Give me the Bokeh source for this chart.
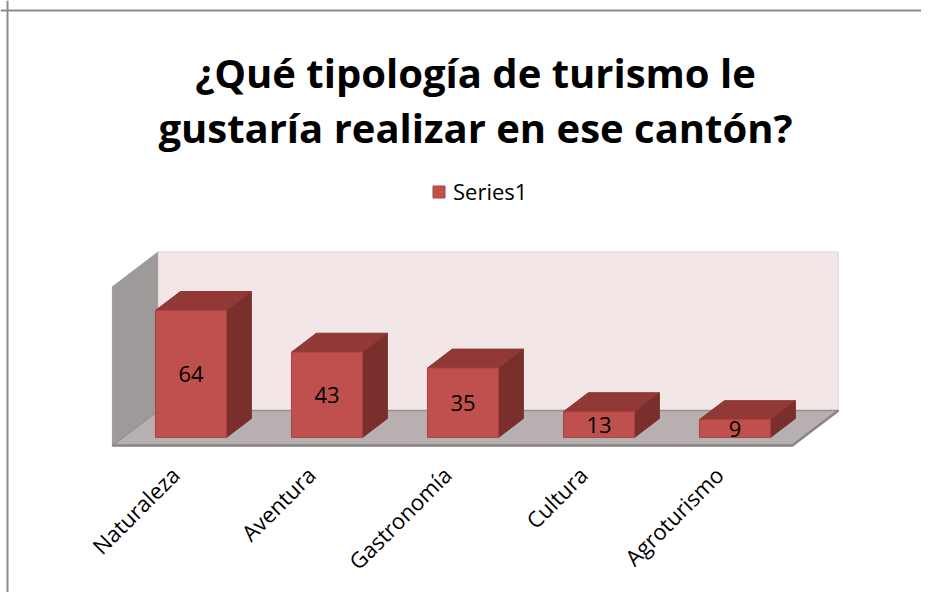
import numpy as np
from bokeh.plotting import figure
from bokeh.models import Range1d, Label, Legend, LegendItem, Span, ColumnDataSource
from bokeh.core.properties import value
from bokeh.embed import file_html
from bokeh.resources import INLINE

# ---------------- data ----------------
categories = ["Naturaleza", "Aventura", "Gastronomía", "Cultura", "Agroturismo"]
series1 = [64, 43, 35, 13, 9]
series_name = "Series1"
title_lines = ["¿Qué tipología de turismo le", "gustaría realizar en ese cantón?"]
axis_max = 80

# ---------------- layout / projection constants ----------------
W, H = 921, 592
PX_X = 136.0      # px per category slot
PX_Y = 1.984      # px per value unit
X0 = 111.9        # canvas px of X = 0
Y0 = 445.0        # canvas px (from top) of Y = 0
DX = 46 / PX_X    # full floor depth, x component (data units)
DY = 35 / PX_Y    # full floor depth, y component (data units)
D_FRONT, D_BACK = 0.23, 0.77
HALF_W = 0.261
FONT = "Open Sans"

FRONT_C = "#c0504d"
TOP_C = "#923937"
SIDE_C = "#7b2f2d"
EDGE_C = "#a9433f"

p = figure(width=W, height=H, output_backend="svg", toolbar_location=None,
           x_range=Range1d(-X0 / PX_X, (W - X0) / PX_X),
           y_range=Range1d(-(H - Y0) / PX_Y, Y0 / PX_Y),
           x_axis_type=None, y_axis_type=None, min_border=0,
           background_fill_color="white", border_fill_color="white")
p.outline_line_color = None

n = len(categories)

# ---------------- walls and floor ----------------
p.patch([0, 0, DX, DX], [0, axis_max, DY + axis_max, DY],
        fill_color="#9f9a9a", line_color="#9f9a9a", line_width=1)
p.patch([DX, n + DX, n + DX, DX], [DY, DY, DY + axis_max, DY + axis_max],
        fill_color="#f3e6e6", line_color="#e8d9d9", line_width=1)
p.patch([0, n, n + DX, DX], [0, 0, DY, DY],
        fill_color="#b8b0b0", line_color="#969090", line_width=1.5)
p.line([0, n, n + DX], [0, 0, DY], line_color="#8a8686", line_width=2.5)

# ---------------- bars ----------------
idx = np.arange(n)
vals = np.array(series1, dtype=float)
lx = idx + 0.5 - HALF_W
rx = idx + 0.5 + HALF_W
fx, fy = D_FRONT * DX, D_FRONT * DY
bx, by = D_BACK * DX, D_BACK * DY

side_xs = [[r + fx, r + bx, r + bx, r + fx] for r in rx]
side_ys = [[fy, by, v + by, v + fy] for v in vals]
top_xs = [[l + fx, r + fx, r + bx, l + bx] for l, r in zip(lx, rx)]
top_ys = [[v + fy, v + fy, v + by, v + by] for v in vals]

p.patches(side_xs, side_ys, fill_color=SIDE_C, line_color="#6e2a28", line_width=1)
p.patches(top_xs, top_ys, fill_color=TOP_C, line_color="#853533", line_width=1)
front_src = ColumnDataSource(dict(left=lx + fx, right=rx + fx,
                                  bottom=np.full(n, fy), top=vals + fy))
front = p.quad(left="left", right="right", bottom="bottom", top="top",
               source=front_src, fill_color=FRONT_C, line_color=EDGE_C, line_width=1)

# data labels
lab_src = ColumnDataSource(dict(x=idx + 0.5 + fx, y=vals / 2 + fy,
                                t=[str(v) for v in series1]))
p.text(x="x", y="y", text="t", source=lab_src, text_align="center",
       text_baseline="middle", text_font=value(FONT), text_font_size="22px",
       text_color="black")

# category labels (rotated 45 deg)
cat_src = ColumnDataSource(dict(x=idx + 0.46, y=np.full(n, -12.6), t=categories))
p.text(x="x", y="y", text="t", source=cat_src, angle=np.pi / 4,
       text_align="right", text_baseline="middle", text_font=value(FONT),
       text_font_size="22px", text_color="black")

# ---------------- title ----------------
baselines = [72, 127]
for line, b in zip(title_lines, baselines):
    p.add_layout(Label(x=475, y=H - b, x_units="screen", y_units="screen",
                       text=line, text_align="center", text_baseline="alphabetic",
                       text_font=FONT, text_font_size="40px", text_font_style="bold",
                       text_color="black"))

# ---------------- legend ----------------
legend = Legend(items=[LegendItem(label=series_name, renderers=[front])],
                location=(431, 386), orientation="horizontal")
legend.glyph_width = 15
legend.glyph_height = 15
legend.label_text_font = FONT
legend.label_text_font_size = "22px"
legend.label_text_color = "black"
legend.label_standoff = 7
legend.padding = 0
legend.margin = 0
legend.spacing = 0
legend.border_line_color = None
legend.background_fill_alpha = 0
p.add_layout(legend, "center")

# ---------------- chart border (left / top of the cropped chart area) ----------------
p.add_layout(Span(location=p.x_range.start + 7 / PX_X, dimension="height",
                  line_color="#8c8c8c", line_width=2))
p.add_layout(Span(location=p.y_range.end - 10 / PX_Y, dimension="width",
                  line_color="#8c8c8c", line_width=2))

open("out.html", "w").write(file_html(p, INLINE))
